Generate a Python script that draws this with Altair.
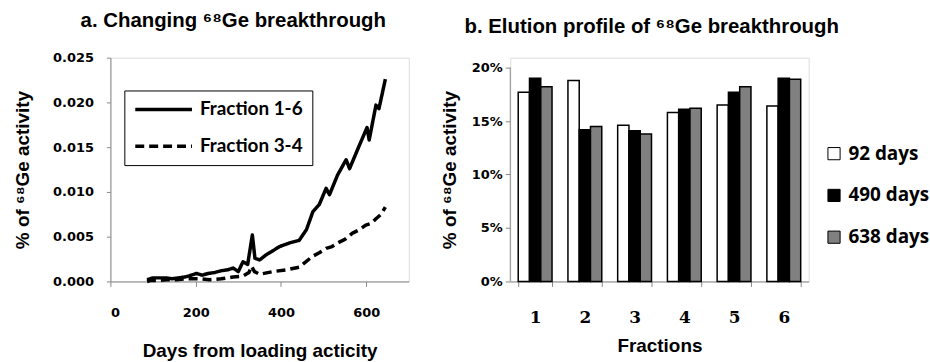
import altair as alt
import pandas as pd

# ---- panel a: breakthrough over time ----
days_16 = [86, 93, 100, 115, 130, 145, 160, 175, 190, 202, 215, 230, 245, 260, 275,
           288, 300, 311, 322, 333, 339, 350, 366, 380, 397, 420, 443, 460, 475, 490,
           506, 514, 533, 553, 561, 584, 602, 607, 623, 630, 645]
frac_16 = [0.0002, 0.0003, 0.0004, 0.0004, 0.0004, 0.0003, 0.0004, 0.0005, 0.0007, 0.0009,
           0.0007, 0.0009, 0.0010, 0.0012, 0.0013, 0.0015, 0.0011, 0.0022, 0.0019, 0.0052,
           0.0026, 0.0024, 0.0030, 0.0034, 0.0039, 0.0043, 0.0046, 0.0058, 0.0078, 0.0086,
           0.0104, 0.0097, 0.0119, 0.0136, 0.0126, 0.0152, 0.0172, 0.0158, 0.0197, 0.0193,
           0.0226]
days_34 = [86, 93, 110, 132, 155, 179, 210, 233, 260, 288, 311, 325, 331, 338, 350, 381,
           412, 443, 474, 490, 506, 520, 537, 550, 568, 585, 599, 612, 623, 635, 645]
frac_34 = [0.0000, 0.0001, 0.0001, 0.0002, 0.0002, 0.0003, 0.0003, 0.0002, 0.0003, 0.0005,
           0.0006, 0.0010, 0.0017, 0.0011, 0.0008, 0.0011, 0.0013, 0.0016, 0.0028, 0.0032,
           0.0037, 0.0039, 0.0044, 0.0047, 0.0054, 0.0058, 0.0063, 0.0065, 0.0070, 0.0075,
           0.0083]
line_series = ["Fraction 1-6", "Fraction 3-4"]
x_ticks = [0, 200, 400, 600]
y_ticks_a = [0, 0.005, 0.010, 0.015, 0.020, 0.025]

# ---- panel b: elution profile ----
fractions = ["1", "2", "3", "4", "5", "6"]
bar_series = ["92 days", "490 days", "638 days"]
v_92 = [17.7, 18.8, 14.6, 15.8, 16.5, 16.4]
v_490 = [19.0, 14.2, 14.1, 16.1, 17.7, 19.0]
v_638 = [18.2, 14.5, 13.8, 16.2, 18.2, 18.9]
y_ticks_b = [0, 0.05, 0.10, 0.15, 0.20]

line_df = pd.concat([
    pd.DataFrame({"day": days_16, "value": frac_16, "series": line_series[0]}),
    pd.DataFrame({"day": days_34, "value": frac_34, "series": line_series[1]}),
])
rows = []
for s, vals in zip(bar_series, [v_92, v_490, v_638]):
    for f, v in zip(fractions, vals):
        rows.append({"fraction": f, "series": s, "value": v / 100})
bar_df = pd.DataFrame(rows)
rule_df = pd.DataFrame({"y0": [0.0], "y1": [y_ticks_b[-1]]})

TITLE_FONT = "Liberation Sans"
TICK_FONT = "DejaVu Sans"
AX = "#8a8a8a"
title_style = dict(titleFont=TITLE_FONT, titleFontWeight="bold", titleFontSize=19,
                   titleColor="black")

left = alt.Chart(line_df).mark_line(strokeWidth=3.5, color="black", strokeJoin="round").encode(
    x=alt.X("day:Q", scale=alt.Scale(domain=[0, 700], nice=False),
            axis=alt.Axis(values=x_ticks, title="Days from loading acticity", grid=False,
                          labelFont=TICK_FONT, labelFontWeight="bold", labelFontSize=13,
                          labelPadding=20, tickSize=5, titlePadding=22, **title_style)),
    y=alt.Y("value:Q", scale=alt.Scale(domain=[0, 0.025], nice=False),
            axis=alt.Axis(values=y_ticks_a, format=".3f", title="% of \u2076\u2078Ge activity",
                          grid=False, labelFont=TICK_FONT, labelFontWeight="bold",
                          labelFontSize=13, labelPadding=13, tickSize=4, titlePadding=20,
                          **title_style)),
    strokeDash=alt.StrokeDash("series:N", sort=line_series,
                              scale=alt.Scale(domain=line_series, range=[[1, 0], [9, 5]]),
                              legend=alt.Legend(title=None, orient="none", legendX=14, legendY=33,
                                                symbolType="stroke", symbolSize=3249,
                                                symbolStrokeWidth=3.5, symbolStrokeColor="black",
                                                clipHeight=20, rowPadding=17,
                                                labelFont="Lato", labelFontWeight="bold",
                                                labelFontSize=19, labelColor="black",
                                                labelOffset=6, strokeColor="black",
                                                fillColor="white", padding=9)),
).properties(
    width=300, height=225,
    title=alt.TitleParams("a. Changing \u2076\u2078Ge breakthrough", anchor="start", frame="group",
                          dx=-30, font=TITLE_FONT, fontSize=20.5, fontWeight="bold", offset=20)
)

bars = alt.Chart(bar_df).mark_bar(stroke="black", strokeWidth=1.5).encode(
    x=alt.X("fraction:N", sort=fractions,
            scale=alt.Scale(paddingInner=0.32, paddingOuter=0.16),
            axis=alt.Axis(title="Fractions", labelAngle=0, tickBand="extent", grid=False,
                          labelFont="DejaVu Serif", labelFontWeight="bold", labelFontSize=17,
                          labelPadding=23, tickSize=5, titlePadding=11, **title_style)),
    xOffset=alt.XOffset("series:N", sort=bar_series, scale=alt.Scale(paddingInner=0)),
    y=alt.Y("value:Q", scale=alt.Scale(domain=[0, 0.2093], nice=False),
            axis=alt.Axis(values=y_ticks_b, format=".0%", title="% of \u2076\u2078Ge activity",
                          grid=False, domain=False, labelFont=TICK_FONT, labelFontWeight="bold",
                          labelFontSize=13, labelPadding=3, tickSize=5, titlePadding=12,
                          **title_style)),
    fill=alt.Fill("series:N", sort=bar_series,
                  scale=alt.Scale(domain=bar_series, range=["white", "black", "#808080"]),
                  legend=alt.Legend(title=None, orient="none", legendX=718, legendY=87,
                                    symbolType="square", symbolSize=150,
                                    symbolStrokeColor="black", symbolStrokeWidth=1,
                                    labelFont="Open Sans", labelFontWeight="bold",
                                    labelFontSize=19, labelColor="black", rowPadding=22,
                                    labelOffset=5)),
)
axis_rule = alt.Chart(rule_df).mark_rule(color=AX).encode(
    x=alt.value(0), y="y0:Q", y2="y1:Q"
)
right = alt.layer(bars, axis_rule).properties(
    width=300, height=225,
    title=alt.TitleParams("b. Elution profile of \u2076\u2078Ge breakthrough", anchor="start",
                          frame="group", dx=-46, font=TITLE_FONT, fontSize=20.5,
                          fontWeight="bold", offset=20)
)

chart = alt.hconcat(left, right, spacing=30).properties(
    padding={"left": 13, "top": 10, "right": 0, "bottom": 0}
).configure_view(stroke=None).configure_axis(
    domainColor=AX, tickColor=AX, labelColor="black"
).configure(background="white")

chart.save("out.html", embed_options={"renderer": "svg", "actions": False})
